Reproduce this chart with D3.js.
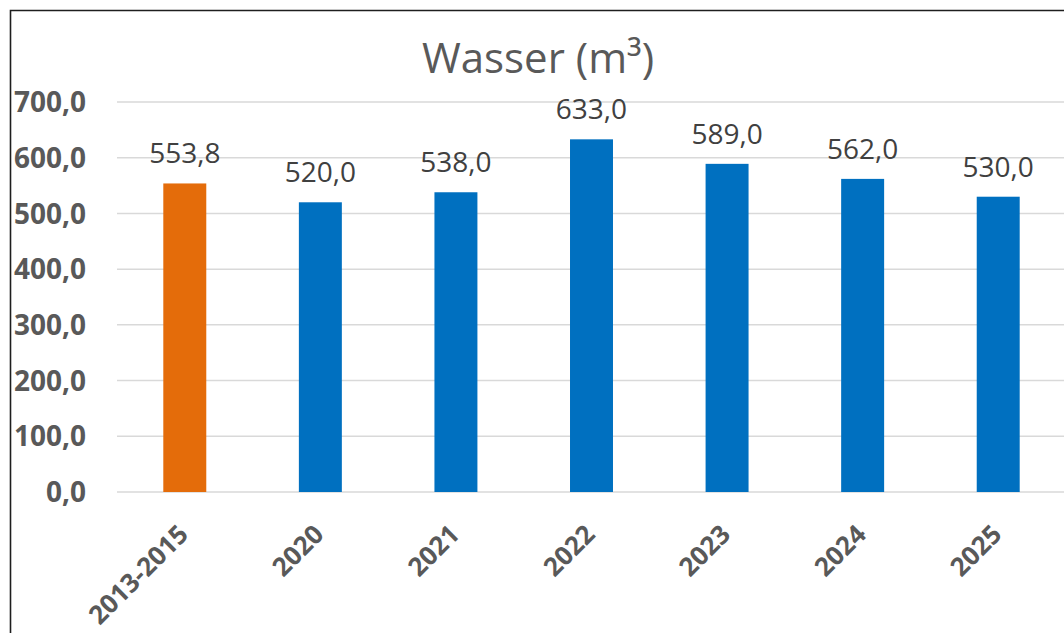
<!DOCTYPE html>
<html>
<head>
<meta charset="utf-8">
<script src="https://cdn.jsdelivr.net/npm/d3@7"></script>
<style>
  body { margin: 0; background: #fff; }
  svg { display: block; }
</style>
</head>
<body>
<svg width="1064" height="633"></svg>
<script>
// chart data
const categories = ["2013-2015", "2020", "2021", "2022", "2023", "2024", "2025"];
const values = [553.8, 520.0, 538.0, 633.0, 589.0, 562.0, 530.0];
const barColors = ["#E46C0A", "#0070C0", "#0070C0", "#0070C0", "#0070C0", "#0070C0", "#0070C0"];
const yTicks = [0, 100, 200, 300, 400, 500, 600, 700];
const title = "Wasser (m³)";

const svg = d3.select("svg");
const font = "'Open Sans', 'Noto Sans', sans-serif";
const fmt = v => v.toFixed(1).replace(".", ",");

const plotLeft = 117, plotRight = 1066, plotTop = 102, plotBottom = 492;

// frame (only left and top visible in the crop)
svg.append("path")
    .attr("d", `M10.5,633 L10.5,10.5 L1064,10.5`)
    .attr("fill", "none")
    .attr("stroke", "#1e1e1e")
    .attr("stroke-width", 1.6);

let pad = 0.683;
let x = d3.scaleBand()
    .domain(categories)
    .range([plotLeft, plotRight])
    .paddingInner(pad)
    .paddingOuter(pad / 2);

let y = d3.scaleLinear()
    .domain([0, 700])
    .range([plotBottom, plotTop]);

// gridlines
svg.append("g")
    .selectAll("line")
    .data(yTicks)
    .enter()
    .append("line")
    .attr("x1", plotLeft)
    .attr("x2", 1064)
    .attr("y1", d => y(d))
    .attr("y2", d => y(d))
    .attr("stroke", "#d9d9d9")
    .attr("stroke-width", 1.5);

// y labels
svg.append("g")
    .selectAll("text")
    .data(yTicks)
    .enter()
    .append("text")
    .attr("x", 86)
    .attr("y", d => y(d))
    .attr("dy", "0.36em")
    .attr("text-anchor", "end")
    .attr("font-family", font)
    .attr("font-weight", "bold")
    .attr("font-size", "28px")
    .attr("fill", "#595959")
    .text(d => fmt(d));

// bars
svg.append("g")
    .selectAll("rect")
    .data(values)
    .enter()
    .append("rect")
    .attr("x", (d, i) => x(categories[i]))
    .attr("y", d => y(d))
    .attr("width", x.bandwidth())
    .attr("height", d => plotBottom - y(d))
    .attr("fill", (d, i) => barColors[i]);

// value labels
svg.append("g")
    .selectAll("text")
    .data(values)
    .enter()
    .append("text")
    .attr("x", (d, i) => x(categories[i]) + x.bandwidth() / 2)
    .attr("y", d => y(d) - 20)
    .attr("text-anchor", "middle")
    .attr("font-family", font)
    .attr("font-size", "28px")
    .attr("fill", "#404040")
    .text(d => fmt(d));

// x labels, rotated
svg.append("g")
    .selectAll("text")
    .data(categories)
    .enter()
    .append("text")
    .attr("transform", d => `translate(${x(d) + x.bandwidth() / 2 + 5}, 536) rotate(-45)`)
    .attr("text-anchor", "end")
    .attr("font-family", font)
    .attr("font-weight", "bold")
    .attr("font-size", "26px")
    .attr("fill", "#595959")
    .text(d => d);

// title
svg.append("text")
    .attr("x", 538)
    .attr("y", 73)
    .attr("text-anchor", "middle")
    .attr("font-family", font)
    .attr("font-size", "42px")
    .attr("fill", "#595959")
    .text(title);
</script>
</body>
</html>
